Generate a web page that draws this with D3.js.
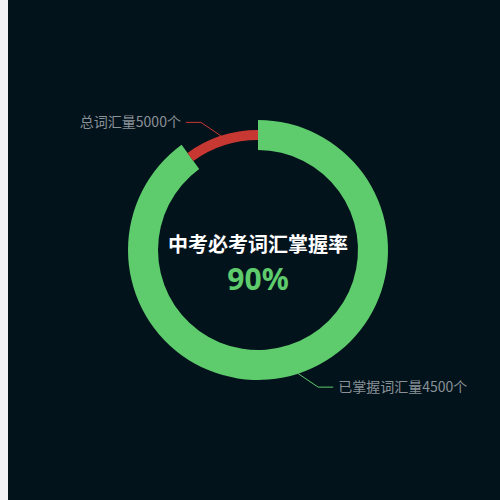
<!DOCTYPE html>
<html>
<head>
<meta charset="utf-8">
<script src="https://cdn.jsdelivr.net/npm/d3@7"></script>
<style>
  body { margin: 0; background: #f0f2f5; }
  svg { display: block; }
  text { font-family: "Noto Sans CJK SC", "Noto Sans", sans-serif; }
  .pct { font-family: "Noto Sans", sans-serif; }
</style>
</head>
<body>
<div class="chart"></div>
<script>
// datos del gráfico
var title = "中考必考词汇掌握率";
var names = ["已掌握词汇量", "总词汇量"];
var values = [4500, 500];        // dominadas, restantes
var totalWords = 5000;
var labels = [names[0] + values[0] + "个", names[1] + totalWords + "个"];
var colors = ["#5ecb6c", "#c83833"];

var W = 500, H = 500, strip = 8;
var cx = strip + 250, cy = 250;

var svg = d3.select(".chart")
    .append("svg")
    .attr("width", W)
    .attr("height", H);

svg.append("rect")
    .attr("x", strip).attr("y", 0)
    .attr("width", W - strip).attr("height", H)
    .attr("fill", "#03131c");

var g = svg.append("g")
    .attr("transform", "translate(" + cx + "," + cy + ")");

var pie = d3.pie().sort(null);
var arcs = pie(values);

// anillo verde ancho y anillo rojo fino
var rings = [
    {inner: 100, outer: 130},
    {inner: 110, outer: 120}
];

g.selectAll(".slice")
    .data(arcs)
  .enter()
    .append("path")
    .attr("class", "slice")
    .attr("d", function(d, i) {
        return d3.arc().innerRadius(rings[i].inner).outerRadius(rings[i].outer)(d);
    })
    .attr("fill", function(d, i) { return colors[i]; });

// etiquetas con línea guía
arcs.forEach(function(d, i) {
    var mid = (d.startAngle + d.endAngle) / 2;
    var r = rings[i].outer;
    var sx = Math.sin(mid) * r, sy = -Math.cos(mid) * r;
    var side = Math.sin(mid) > 0 ? 1 : -1;
    var vs = Math.cos(mid) > 0 ? -1 : 1;
    var ex = sx + side * 20, ey = sy + vs * 13.5;
    var fx = ex + side * 15;

    g.append("polyline")
        .attr("points", [[sx, sy], [ex, ey], [fx, ey]].map(function(p) { return p.join(","); }).join(" "))
        .attr("fill", "none")
        .attr("stroke", colors[i])
        .attr("stroke-width", 1);

    g.append("text")
        .attr("x", fx + side * 5)
        .attr("y", ey)
        .attr("dy", "0.35em")
        .attr("text-anchor", side > 0 ? "start" : "end")
        .attr("fill", "#8a9197")
        .attr("font-size", 14)
        .text(labels[i]);
});

// texto central
g.append("text")
    .attr("x", 0).attr("y", 2)
    .attr("text-anchor", "middle")
    .attr("fill", "#ffffff")
    .attr("font-size", 20)
    .attr("font-weight", "bold")
    .text(title);

g.append("text")
    .attr("class", "pct")
    .attr("x", 0).attr("y", 40)
    .attr("text-anchor", "middle")
    .attr("fill", colors[0])
    .attr("font-size", 30)
    .attr("font-weight", "bold")
    .text(Math.round(values[0] / totalWords * 100) + "%");
</script>
</body>
</html>
